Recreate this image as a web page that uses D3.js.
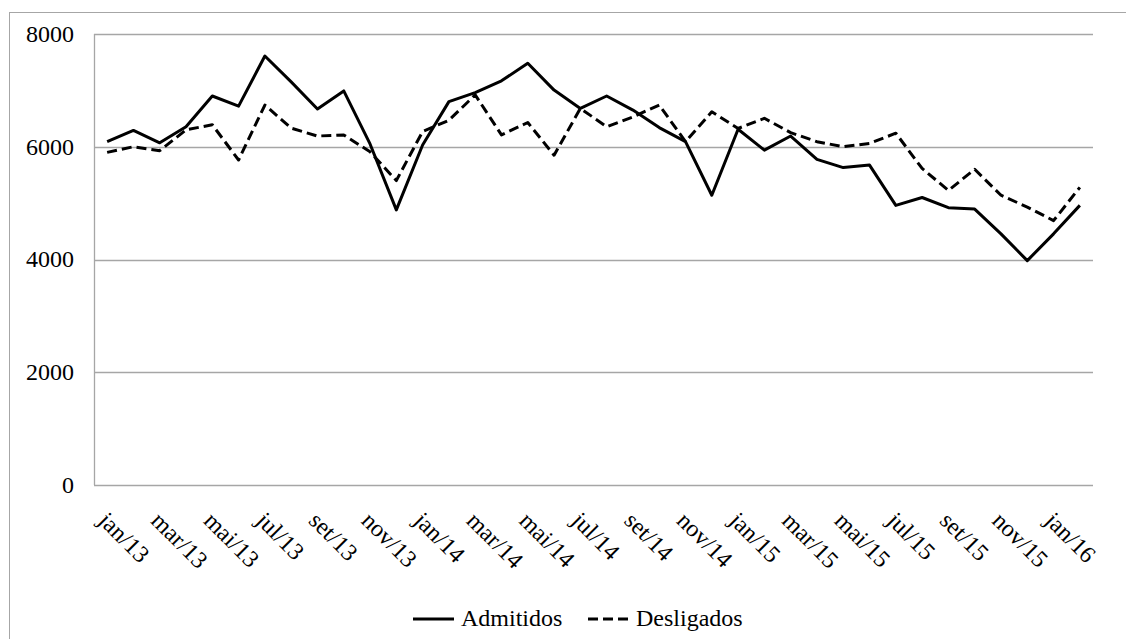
<!DOCTYPE html>
<html>
<head>
<meta charset="utf-8">
<title>Admitidos e Desligados</title>
<style>
    body { margin: 0; background: #fff; }
    svg text { font-family: 'Liberation Serif', 'Times New Roman', Times, serif; fill: #000; }
</style>
</head>
<body>
<svg id="grafico" width="1126" height="639"></svg>
<script src="https://d3js.org/d3.v7.min.js"></script>
<script>
// meses jan/13 .. fev/16
var meses = ["jan/13","fev/13","mar/13","abr/13","mai/13","jun/13","jul/13","ago/13","set/13","out/13","nov/13","dez/13",
             "jan/14","fev/14","mar/14","abr/14","mai/14","jun/14","jul/14","ago/14","set/14","out/14","nov/14","dez/14",
             "jan/15","fev/15","mar/15","abr/15","mai/15","jun/15","jul/15","ago/15","set/15","out/15","nov/15","dez/15",
             "jan/16","fev/16"];

var admitidos = [6090, 6290, 6070, 6355, 6900, 6720, 7610, 7150, 6670, 6990, 6050, 4880,
                 6030, 6800, 6960, 7170, 7480, 7005, 6680, 6900, 6650, 6340, 6090, 5140,
                 6310, 5940, 6190, 5775, 5630, 5675, 4960, 5100, 4920, 4895, 4455, 3980,
                 4455, 4960];

var desligados = [5900, 6000, 5930, 6300, 6390, 5765, 6740, 6330, 6190, 6210, 5910, 5400,
                  6270, 6470, 6920, 6210, 6430, 5850, 6680, 6355, 6530, 6740, 6090, 6620,
                  6325, 6505, 6250, 6090, 6000, 6060, 6240, 5615, 5225, 5600, 5140, 4930,
                  4690, 5280];

var yTicks = [0, 2000, 4000, 6000, 8000];

var svg = d3.select('#grafico');
var mEsq = 94, mDir = 1093, mTopo = 34, mBase = 485;
var fonte = "'Liberation Serif', 'Times New Roman', Times, serif";

// moldura externa
svg.append('rect')
    .attr('x', 9.5).attr('y', 12.5)
    .attr('width', 1130).attr('height', 640)
    .attr('fill', 'none').attr('stroke', '#a6a6a6');

var x = d3.scaleBand().domain(meses).range([mEsq, mDir]);
var y = d3.scaleLinear().domain([0, 8000]).range([mBase, mTopo]);

// linhas de grade
svg.selectAll('.grade')
    .data(yTicks.filter(function(d) { return d > 0; }))
    .enter()
    .append('line')
    .attr('x1', mEsq).attr('x2', mDir)
    .attr('y1', function(d) { return Math.round(y(d)) + 0.5; })
    .attr('y2', function(d) { return Math.round(y(d)) + 0.5; })
    .attr('stroke', '#a6a6a6').attr('stroke-width', 1.3);

// eixos
svg.append('line')
    .attr('x1', mEsq + 0.5).attr('x2', mEsq + 0.5)
    .attr('y1', mTopo).attr('y2', mBase)
    .attr('stroke', '#a6a6a6').attr('stroke-width', 1.3);
svg.append('line')
    .attr('x1', mEsq).attr('x2', mDir)
    .attr('y1', mBase + 0.5).attr('y2', mBase + 0.5)
    .attr('stroke', '#a6a6a6').attr('stroke-width', 1.3);

svg.selectAll('.ylab')
    .data(yTicks)
    .enter()
    .append('text')
    .attr('x', 74)
    .attr('y', function(d) { return y(d); })
    .attr('dy', '0.33em')
    .attr('text-anchor', 'end')
    .attr('font-family', fonte)
    .style('font-size', '24px')
    .text(function(d) { return d; });

// rótulos do eixo x (um sim, um não)
svg.selectAll('.xlab')
    .data(meses.filter(function(d, i) { return i % 2 === 0; }))
    .enter()
    .append('text')
    .attr('transform', function(d) {
        return 'translate(' + (x(d) + x.bandwidth() / 2 + 2) + ',' + 510 + ') rotate(45)';
    })
    .attr('dy', '0.7em')
    .attr('text-anchor', 'start')
    .attr('font-family', fonte)
    .style('font-size', '24px')
    .text(function(d) { return d; });

var linha = d3.line()
    .x(function(d, i) { return x(meses[i]) + x.bandwidth() / 2; })
    .y(function(d) { return y(d); });

svg.append('path')
    .datum(admitidos)
    .attr('d', linha)
    .attr('fill', 'none').attr('stroke', '#000')
    .attr('stroke-width', 3).attr('stroke-linejoin', 'round');

svg.append('path')
    .datum(desligados)
    .attr('d', linha)
    .attr('fill', 'none').attr('stroke', '#000')
    .attr('stroke-width', 3).attr('stroke-linejoin', 'round')
    .attr('stroke-dasharray', '10,5');

// legenda
var legenda = [
    {nome: 'Admitidos', x: 413, dash: null},
    {nome: 'Desligados', x: 588, dash: '10,5'}
];
legenda.forEach(function(l) {
    svg.append('line')
        .attr('x1', l.x).attr('x2', l.x + 41)
        .attr('y1', 619).attr('y2', 619)
        .attr('stroke', '#000').attr('stroke-width', 3)
        .attr('stroke-dasharray', l.dash);
    svg.append('text')
        .attr('x', l.x + 48).attr('y', 626)
        .attr('font-family', fonte)
        .style('font-size', '24px')
        .text(l.nome);
});
</script>
</body>
</html>
